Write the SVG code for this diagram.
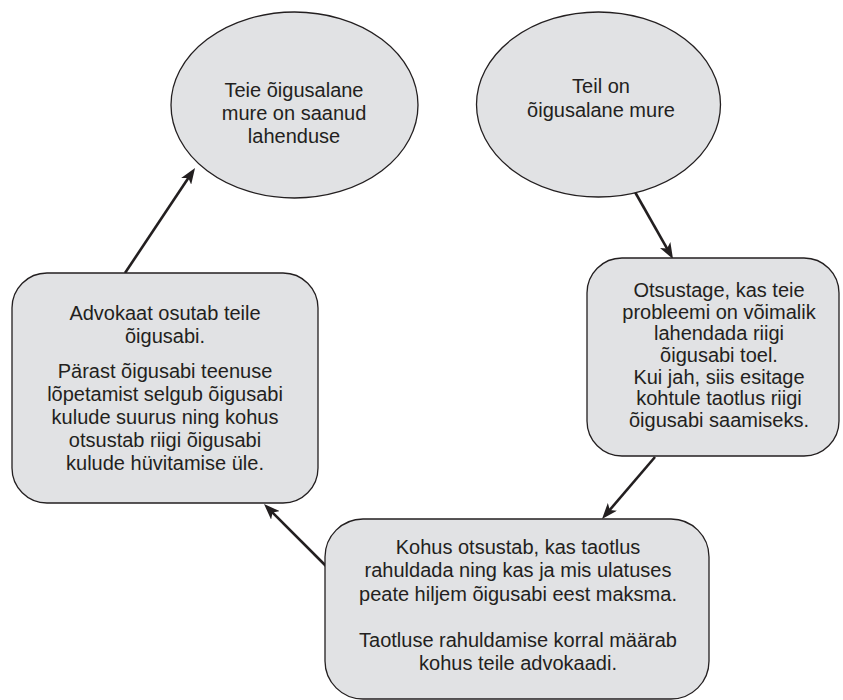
<svg xmlns="http://www.w3.org/2000/svg" width="843" height="700" viewBox="0 0 843 700">
<style>
.shape{fill:#e1e2e4;stroke:#231f20;stroke-width:1.3}
.t{font-family:"Liberation Sans",Arial,sans-serif;font-size:20px;fill:#231f20;text-anchor:middle}
.conn{stroke:#231f20;stroke-width:2.6;fill:none;marker-end:url(#ah)}
</style>
<defs>
<marker id="ah" markerUnits="userSpaceOnUse" markerWidth="16" markerHeight="12" viewBox="0 0 16 12" refX="6" refY="6" orient="auto">
<path d="M0,0 L16,6 L0,12 L4,6 z" fill="#231f20"/>
</marker>
</defs>
<rect width="843" height="700" fill="#ffffff"/>
<g id="connectors">
<line class="conn" x1="125" y1="273" x2="189.5" y2="176.3"/>
<line class="conn" x1="635" y1="192" x2="668.1" y2="250.3"/>
<line class="conn" x1="655" y1="457" x2="608.5" y2="511.4"/>
<line class="conn" x1="326" y1="566" x2="271.1" y2="511.1"/>
</g>
<g id="node-resolved">
<ellipse class="shape" cx="294.5" cy="105" rx="123.5" ry="93"/>
<text class="t" x="294" y="97">Teie õigusalane</text>
<text class="t" x="294" y="120">mure on saanud</text>
<text class="t" x="294" y="143">lahenduse</text>
</g>
<g id="node-problem">
<ellipse class="shape" cx="598.5" cy="104.5" rx="122" ry="92.5"/>
<text class="t" x="601" y="93">Teil on</text>
<text class="t" x="601" y="117">õigusalane mure</text>
</g>
<g id="node-decide">
<rect class="shape" x="587" y="258" width="252" height="198" rx="35" ry="35"/>
<text class="t" x="719" y="297">Otsustage, kas teie</text>
<text class="t" x="719" y="319">probleemi on võimalik</text>
<text class="t" x="719" y="340">lahendada riigi</text>
<text class="t" x="719" y="362">õigusabi toel.</text>
<text class="t" x="719" y="384">Kui jah, siis esitage</text>
<text class="t" x="719" y="405">kohtule taotlus riigi</text>
<text class="t" x="719" y="427">õigusabi saamiseks.</text>
</g>
<g id="node-court">
<rect class="shape" x="325" y="519" width="384" height="180" rx="38" ry="38"/>
<text class="t" x="518" y="554">Kohus otsustab, kas taotlus</text>
<text class="t" x="518" y="577">rahuldada ning kas ja mis ulatuses</text>
<text class="t" x="518" y="601">peate hiljem õigusabi eest maksma.</text>
<text class="t" x="518" y="647">Taotluse rahuldamise korral määrab</text>
<text class="t" x="518" y="670">kohus teile advokaadi.</text>
</g>
<g id="node-lawyer">
<rect class="shape" x="12" y="273" width="306" height="230" rx="35" ry="35"/>
<text class="t" x="165" y="320">Advokaat osutab teile</text>
<text class="t" x="165" y="343">õigusabi.</text>
<text class="t" x="165" y="378">Pärast õigusabi teenuse</text>
<text class="t" x="165" y="401">lõpetamist selgub õigusabi</text>
<text class="t" x="165" y="424">kulude suurus ning kohus</text>
<text class="t" x="165" y="447">otsustab riigi õigusabi</text>
<text class="t" x="165" y="470">kulude hüvitamise üle.</text>
</g>
</svg>
